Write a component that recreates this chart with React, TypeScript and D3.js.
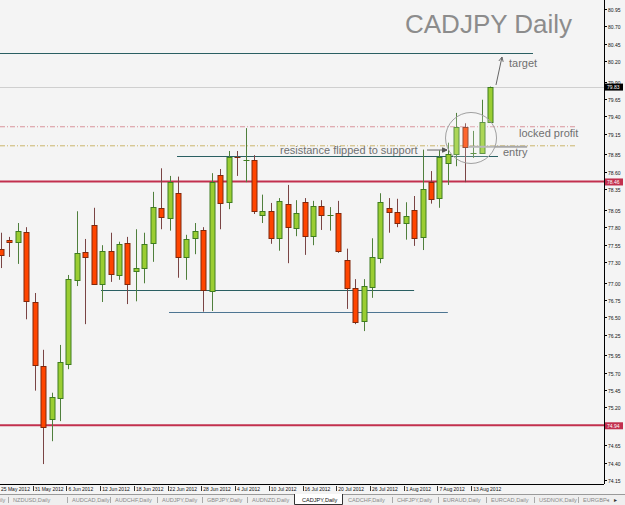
import React from 'react';
import * as d3 from 'd3';

// ---------- data ----------
const dates = [
  '2012-05-25','2012-05-28','2012-05-29','2012-05-30','2012-05-31',
  '2012-06-01','2012-06-04','2012-06-05','2012-06-06','2012-06-07','2012-06-08','2012-06-11','2012-06-12','2012-06-13','2012-06-14','2012-06-15',
  '2012-06-18','2012-06-19','2012-06-20','2012-06-21','2012-06-22','2012-06-25','2012-06-26','2012-06-27','2012-06-28','2012-06-29',
  '2012-07-02','2012-07-03','2012-07-04','2012-07-05','2012-07-06','2012-07-09','2012-07-10','2012-07-11','2012-07-12','2012-07-13',
  '2012-07-16','2012-07-17','2012-07-18','2012-07-19','2012-07-20','2012-07-23','2012-07-24','2012-07-25','2012-07-26','2012-07-27',
  '2012-07-30','2012-07-31','2012-08-01','2012-08-02','2012-08-03','2012-08-06','2012-08-07','2012-08-08','2012-08-09','2012-08-10',
  '2012-08-13','2012-08-14','2012-08-15'
];
const open = [77.49,77.62,77.59,77.73,76.72,75.80,75.03,75.33,75.83,77.04,
  77.44,77.83,76.98,77.46,77.11,77.57,77.17,77.21,77.57,78.08,
  77.93,78.29,77.37,77.64,77.76,76.88,78.55,78.16,78.81,78.77,
  78.77,77.98,78.03,77.64,78.14,77.79,78.16,77.67,78.11,77.97,
  78.01,77.33,76.92,76.45,76.94,77.36,78.08,78.02,77.86,78.05,
  77.66,78.45,78.22,78.73,78.86,79.25,78.87,78.87,79.32];
const high = [77.72,77.66,77.86,77.80,76.85,76.03,75.41,76.10,77.11,78.03,
  77.63,78.08,77.54,77.72,77.59,77.66,77.77,77.72,78.31,78.65,
  78.54,78.53,77.69,77.86,77.80,78.58,78.64,78.90,78.90,79.23,
  78.84,78.27,78.15,78.22,78.41,78.19,78.22,78.18,78.19,78.09,
  78.18,77.49,77.05,77.05,77.64,78.29,78.22,78.21,78.16,78.25,
  78.92,78.61,78.91,79.02,79.45,79.30,79.19,79.64,79.83];
const low = [77.21,77.37,77.27,76.47,75.44,74.38,74.71,75.00,75.75,76.95,
  76.40,76.97,76.72,77.01,77.04,76.69,76.73,76.99,77.30,77.77,
  77.75,77.07,77.04,77.41,76.58,76.59,77.77,78.06,78.54,78.45,
  77.99,77.86,77.56,77.46,77.28,77.67,77.40,77.54,77.76,77.75,
  77.43,76.62,76.40,76.30,76.78,77.28,77.72,77.80,77.62,77.53,
  77.47,78.14,78.08,78.41,78.68,78.45,78.80,78.86,79.32];
const close = [77.40,77.59,77.75,76.73,75.81,74.92,75.35,75.85,77.05,77.43,
  77.37,76.98,77.46,77.12,77.56,76.98,77.21,77.56,78.09,77.95,
  78.45,77.37,77.63,77.75,76.89,78.45,78.15,78.81,78.80,78.77,
  78.03,78.03,77.64,78.18,77.80,78.01,77.67,78.11,77.98,77.98,
  77.46,76.92,76.43,76.95,77.37,78.16,78.02,77.86,77.96,77.64,
  78.35,78.21,78.81,78.86,79.25,78.96,78.87,79.32,79.83];

const priceTicks = ['80.95','80.70','80.45','80.20','79.90','79.65','79.40','79.15','78.85','78.60',
  '78.35','78.05','77.80','77.55','77.30','77.00','76.75','76.50','76.25','75.95','75.70','75.45',
  '75.20','74.90','74.65','74.40','74.15'];

const levelPrices = [80.315, 78.828, 76.893, 76.575];
const levelFrom = [-1, 20.88, 11.86, 19.93];
const levelTo = [63.1, 58.95, 49.0, 53.0];

const redLevels = [78.46, 74.94];
const currentPrice = 79.83;
const lockedProfit = 79.25;
const entryPrice = 78.975;

const tabs = ['NZDUSD,Daily','AUDCAD,Daily','AUDCHF,Daily','AUDJPY,Daily','GBPJPY,Daily','AUDNZD,Daily',
  'CADJPY,Daily','CADCHF,Daily','CHFJPY,Daily','EURAUD,Daily','EURCAD,Daily','USDNOK,Daily','EURGBP'];
const activeTab = 'CADJPY,Daily';

const noteTexts = ['target', 'locked profit', 'entry', 'resistance flipped to support'];
const noteIdx = [60.25, 61.44, 59.54, 33.09];
const notePrice = [80.11, 79.10, 78.83, 78.86];

// ---------- layout ----------
const W = 625, H = 505;
const plotRight = 604, plotBottom = 484;
const FONT = "'Liberation Sans', Arial, sans-serif";

export default function App() {
  const parse = d3.timeParse('%Y-%m-%d');
  const fmt = d3.timeFormat('%-d %b %Y');
  const x = d3.scaleLinear().domain([0, dates.length - 1]).range([1, 490]);
  const y = d3.scaleLinear().domain([74.15, 80.95]).range([480, 9]);
  const px = (v: number) => Math.round(x(v)) + 0.5;

  const bullFill = '#9acd32', bullStroke = '#3f7d20', bullWick = '#4f7f3c';
  const bearFill = '#ff4500', bearStroke = '#80280c', bearWick = '#7a4444';
  const red = '#c2304e';

  const arrow = (x1: number, y1: number, x2: number, y2: number, size: number) => {
    const a = Math.atan2(y2 - y1, x2 - x1);
    const p1 = [x2 - size * Math.cos(a - 0.45), y2 - size * Math.sin(a - 0.45)];
    const p2 = [x2 - size * Math.cos(a + 0.45), y2 - size * Math.sin(a + 0.45)];
    return `M${p1[0]},${p1[1]}L${x2},${y2}L${p2[0]},${p2[1]}`;
  };

  const tabX = [13, 72, 115, 162, 207, 252, 302, 348, 397, 443, 491, 539, 583];

  const boxPrices = [currentPrice, ...redLevels];
  const boxY = boxPrices.map((p) => y(p));
  const hiddenTick = (yy: number) => boxY.some((b) => Math.abs(b - yy) < 4);

  const tgtFrom = [x(58.71), y(79.853)], tgtTo = [x(59.42), y(80.257)];
  const supFrom = [x(50.53), y(78.914)], supTo = [x(52.9), y(78.914)];

  return (
    <svg width={W} height={H} style={{ position: 'fixed', left: 0, top: 0, background: '#f4f4f4' }} fontFamily={FONT}>
      <rect x={0} y={0} width={W} height={H} fill="#f4f4f4" />

      <text x={405} y={33} fontSize={26} fill="#8c8c8c">CADJPY Daily</text>

      <line x1={0} x2={plotRight} y1={Math.round(y(currentPrice)) + 0.5} y2={Math.round(y(currentPrice)) + 0.5} stroke="#cfcfcf" strokeWidth={1} />

      <line x1={0} x2={x(68.1)} y1={y(lockedProfit)} y2={y(lockedProfit)} stroke="#d9949c" strokeWidth={1} strokeDasharray="5,2,1,2" />
      <line x1={0} x2={x(68.1)} y1={y(entryPrice)} y2={y(entryPrice)} stroke="#cbb56c" strokeWidth={1} strokeDasharray="5,2,1,2" />

      {levelPrices.map((p, i) => (
        <line key={'lv' + i} x1={Math.max(0, x(levelFrom[i]))} x2={x(levelTo[i])}
          y1={Math.round(y(p)) + 0.5} y2={Math.round(y(p)) + 0.5}
          stroke={i === 3 ? '#4d7592' : '#2a5f62'} strokeWidth={1} />
      ))}

      {redLevels.map((p, i) => (
        <line key={'rl' + i} x1={0} x2={plotRight} y1={y(p)} y2={y(p)} stroke={red} strokeWidth={2} />
      ))}

      {dates.map((d, i) => {
        const o = open[i], c = close[i], h = high[i], l = low[i];
        const bull = c >= o;
        const cx = px(i);
        const top = Math.round(y(Math.max(o, c))) + 0.5;
        const bot = Math.round(y(Math.min(o, c))) + 0.5;
        const bh = bot - top;
        return (
          <g key={d}>
            <line x1={cx} x2={cx} y1={y(h)} y2={y(l)} stroke={bull ? bullWick : bearWick} strokeWidth={1} />
            {bh < 1.5 ? (
              <line x1={cx - 3} x2={cx + 3} y1={top} y2={top} stroke={bull ? bullStroke : bearStroke} strokeWidth={1} />
            ) : (
              <rect x={cx - 2.5} y={top} width={5} height={bh} fill={bull ? bullFill : bearFill} stroke={bull ? bullStroke : bearStroke} strokeWidth={1} />
            )}
          </g>
        );
      })}

      <line x1={x(55.4)} x2={x(62.4)} y1={y(entryPrice) + 1} y2={y(entryPrice) + 1} stroke="#a8a8a8" strokeWidth={2} />

      <circle cx={x(55.75)} cy={y(79.088)} r={25.5} fill="rgba(255,255,255,0.18)" stroke="#a0a0a0" strokeWidth={1} />

      <line x1={tgtFrom[0]} y1={tgtFrom[1]} x2={tgtTo[0]} y2={tgtTo[1]} stroke="#666" strokeWidth={1} />
      <path d={arrow(tgtFrom[0], tgtFrom[1], tgtTo[0], tgtTo[1], 5)} fill="none" stroke="#666" strokeWidth={1} />
      <line x1={supFrom[0]} y1={supFrom[1]} x2={supTo[0]} y2={supTo[1]} stroke="#666" strokeWidth={1} />
      <path d={arrow(supFrom[0], supFrom[1], supTo[0], supTo[1], 5) + 'Z'} fill="#555" stroke="#555" strokeWidth={1} />

      {noteTexts.map((t, i) => (
        <text key={t} x={x(noteIdx[i])} y={y(notePrice[i])} fontSize={11} fill="#707070">{t}</text>
      ))}

      {/* right axis */}
      <line x1={plotRight + 0.5} x2={plotRight + 0.5} y1={0} y2={plotBottom} stroke="#000" strokeWidth={1} />
      {priceTicks.map((t) => {
        const yy = Math.round(y(+t)) + 0.5;
        return (
          <g key={t}>
            <line x1={plotRight} x2={plotRight + 3} y1={yy} y2={yy} stroke="#000" />
            {hiddenTick(yy) ? null : (
              <text x={plotRight + 4} y={yy + 2} fontSize={5} fill="#111">{t}</text>
            )}
          </g>
        );
      })}

      {boxPrices.map((p, i) => (
        <g key={'bx' + i}>
          <rect x={plotRight + 1} y={y(p) - 3} width={18} height={7} fill={i === 0 ? '#000' : red} />
          <text x={plotRight + 3} y={y(p) + 2.5} fontSize={5} fill="#fff">{p.toFixed(2)}</text>
        </g>
      ))}

      {/* bottom axis */}
      <line x1={0} x2={plotRight} y1={plotBottom + 0.5} y2={plotBottom + 0.5} stroke="#000" strokeWidth={1} />
      {dates.map((d, i) => i % 4 === 0 ? (
        <g key={'dt' + i}>
          <line x1={px(i) - 2} x2={px(i) - 2} y1={plotBottom + 2} y2={plotBottom + 7} stroke="#333" />
          <text x={x(i)} y={plotBottom + 7} fontSize={5} fill="#111">{fmt(parse(d) as Date)}</text>
        </g>
      ) : null)}

      {/* tabs */}
      <rect x={0} y={494} width={W} height={11} fill="#efefef" />
      <line x1={0} x2={W} y1={494.5} y2={494.5} stroke="#9a9a9a" />
      <text x={0} y={501.5} fontSize={5.6} fill="#8a8a8a">ily</text>
      {tabs.map((t, i) => {
        const active = t === activeTab;
        const prevActive = i > 0 && tabs[i - 1] === activeTab;
        return (
          <g key={t}>
            {active ? (
              <>
                <rect x={tabX[i] - 7} y={494} width={47} height={11} fill="#fff" />
                <path d={`M${tabX[i] - 7.5},494V504.5H${tabX[i] + 40.5}V494`} fill="none" stroke="#333" />
              </>
            ) : !prevActive ? (
              <line x1={tabX[i] - 4.5} x2={tabX[i] - 4.5} y1={497} y2={503} stroke="#aaa" />
            ) : null}
            <text x={tabX[i]} y={501.5} fontSize={5.6} fill={active ? '#111' : '#8a8a8a'}>{t}</text>
          </g>
        );
      })}
      <text x={606} y={501.5} fontSize={6} fill="#999">◂</text>
      <text x={614} y={501.5} fontSize={6} fill="#333">▸</text>
    </svg>
  );
}
